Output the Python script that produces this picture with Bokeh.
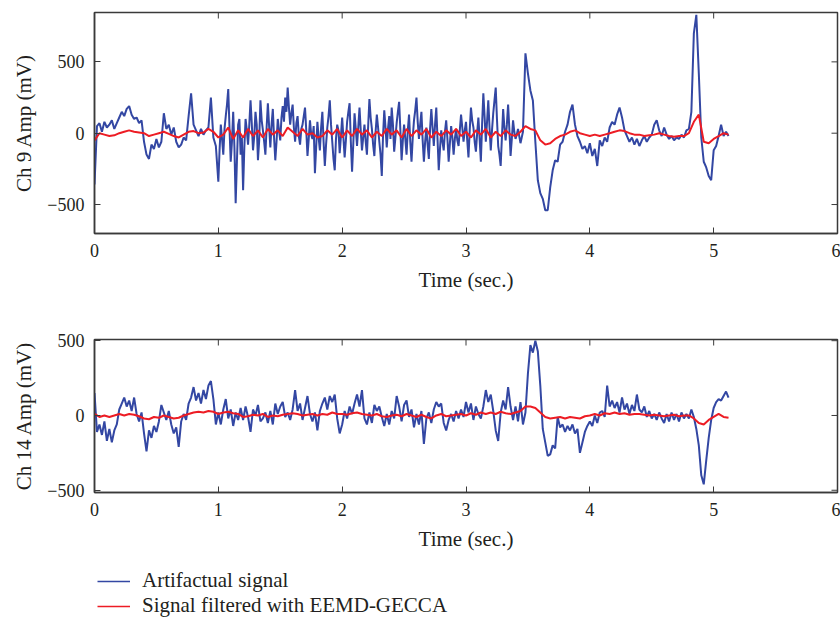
import numpy as np
from bokeh.plotting import figure
from bokeh.models import Range1d, FixedTicker, Legend, LegendItem
from bokeh.layouts import column
from bokeh.embed import file_html
from bokeh.resources import INLINE

# ---------------- data ----------------
x_ticks = [0, 1, 2, 3, 4, 5, 6]
y_ticks = [-500, 0, 500]

# Ch 9 artifactual signal, in three pieces sampled at different steps
ch9_raw_a_start, ch9_raw_a_step = 0.00, 0.02
ch9_raw_a = [
    -360, 50, 70, 10, 80, 40, 60, 90, 30, 70,
    110, 150, 120, 170, 190, 130, 100, 110, 70, 90,
    -60, -150, -180, -80, -110, -40, -100, -60, 140, 30,
    60, -10, 40, -60, -100, -80, -30, -50, 120, 280,
    60, 20, -20, 30, -10, 20, 40, 250, -30, -90,
]
ch9_raw_b_start, ch9_raw_b_step = 1.00, 0.01
ch9_raw_b = [
    -340, -120, 60, -40, -150, 30, 120, 200, 310, 40, -200, -60, 150, -100, -490, -200, 60, 100, -150, -30,
    -400, -100, 100, 20, -80, 60, 230, 70, -120, -20, 150, 60, -190, -50, 230, 90, 20, -60, -150, 40,
    210, 50, -100, 60, 170, -30, -190, -60, 100, 20, -50, 110, 190, 80, 250, 150, 320, 180, 60, 140,
    200, 40, -60, 70, 120, -20, -80, 30, 60, 120, 180, 20, -160, -40, 90, -10, -40, 50, -280, -100,
    80, -30, -120, 40, 150, -60, -230, -80, 40, 120, 230, 60, -60, -180, -260, -40, 60, 20, -140, -20,
    110, -30, -170, -50, 80, 150, 210, -60, -270, -70, 140, 30, -90, 40, 180, 20, -120, -30, 60, -60,
    -150, 50, 240, 110, 30, -80, -160, 10, 130, 40, -60, -150, -300, -20, 160, 40, -100, 30, 120, -40,
    180, 60, -130, -30, 70, 150, 220, 20, -190, -50, 60, -40, -150, 20, 130, -60, -200, -30, 90, 160,
    250, 80, -40, 60, 150, -50, -200, -60, 40, -80, -180, 30, 170, 40, -90, 60, 180, -40, -260, -110,
    20, -60, -120, 10, 90, -40, -200, -70, 50, -30, -150, -40, 30, -50, -90, 20, 130, 40, -60, 20,
    80, -50, -170, 20, 180, 90, 40, -60, -130, 0, 110, -40, -200, 60, 280, 120, -60, 80, 230, 40,
    -120, 20, 140, 230, 320, 100, -90, -150, -230, -30, 170, 40, -50, 60, 200, 30, -160, -40, 90, 10,
    -40, -10, 30, -20, -70, -30,
]
ch9_raw_c_start, ch9_raw_c_step = 3.46, 0.02
ch9_raw_c = [
    10, 560, 420, 300, 230, -60, -330,
    -420, -460, -540, -540, -380, -260, -190, -200, -80, -60,
    10, 60, 150, 200, 60, -20, -60, -110, -90, -140,
    -70, -160, -110, -230, -50, -90, -30, -60, 40, 80,
    60, 130, 180, 110, 20, -20, -60, -30, -80, -40,
    -90, -50, -20, -60, -30, -10, 60, 90, 20, -20,
    40, -10, -40, -20, -50, -30, -40, -10, -30, 20,
    30, 150, 700, 830, 420, -30, -200, -240, -300, -330,
    -120, -90, -20, 60, -20, 10, -20,
]

# Ch 9 filtered signal (step 0.04 s)
ch9_filt_step = 0.04
ch9_filt = [
    -50, 0, -10, -20, -15, 0, 10, 20, 10, 5,
    0, -20, -10, 0, 10, -5, -20, -30, -10, 10,
    15, 0, 5, 30, 10, -30, -10, 40, -40, 20,
    -30, 30, -20, 20, -30, 30, -10, 20, -20, 40,
    10, -20, 30, -10, 0, -30, -20, 20, -10, 30,
    -30, 20, -20, 30, -10, 20, -30, 10, -20, 30,
    -10, 20, -30, 30, -20, 20, -10, 30, -30, 10,
    -20, 20, -10, 30, -20, 10, -30, 20, -10, 30,
    -30, 10, -20, 20, -10, -20, 10, 50, 30, 20,
    -50, -80, -70, -40, -20, -10, 10, 20, 0, -10,
    -20, -10, -20, -10, 0, 10, 20, 15, 0, -10,
    -10, -20, -15, -10, 0, -10, -20, -25, -20, -20,
    0, 80, 130, -60, -70, -40, -20, 0, -10,
]

# Ch 14 artifactual signal (step 0.02 s)
ch14_raw_step = 0.02
ch14_raw = [
    150, -110, -60, -130, -40, -170, -90, -180, -100, -60,
    40, 80, 120, 60, 100, 30, 120, 10, -40, 20,
    -120, -240, -100, -150, -70, -110, -40, 70, 20, -30,
    30, -60, -120, -80, -210, -40, 10, -30, 80, 120,
    190, 100, 150, 80, 170, 110, 200, 230, 110, -60,
    20, -60, 40, 110, -20, 40, -70, 20, -30, 50,
    -30, 60, -10, -110, 40, 0, 70, -40, -20, 20,
    -50, 30, -60, 80, 10, 60, 90, -10, 20, -30,
    40, 170, 30, 80, -30, 50, 130, 10, -40, 20,
    -100, 30, 80, 120, 40, 130, 90, 140, -20, -120,
    -60, 30, -20, 60, 10, 80, 140, 60, 170, -20,
    -60, 20, -50, 70, 30, 60, -10, -70, 10, -60,
    30, -20, 130, 60, -40, 70, 100, -10, 40, -80,
    10, -60, 30, -190, -20, 20, -50, 40, 90, 60,
    80, -50, -100, -30, 10, -40, 30, -20, 40, -10,
    90, 20, 80, -30, 60, 10, -20, 60, 170, 90,
    140, 30, -100, -170, 20, 100, 40, 190, 60, -30,
    60, -40, 90, -60, 20, 280, 470, 420, 500, 430,
    200, -90, -180, -270, -260, -200, -220, -10, -80, -60,
    -110, -70, -100, -60, -120, -90, -250, -180, -110, -70,
    -40, -70, 0, -50, 20, 30, -10, 200, 60, 100,
    50, 90, 20, 120, 40, 80, 10, 70, 30, 140,
    40, 20, 60, -10, 30, -20, 10, -30, 20, -20,
    -50, 10, -40, 20, -30, 10, -40, 20, -20, 10,
    -20, 40, -10, -90, -200, -400, -460, -300, -150, -30,
    50, 90, 110, 100, 130, 160, 120,
]

# Ch 14 filtered signal (step 0.04 s)
ch14_filt_step = 0.04
ch14_filt = [
    10, -10, 0, -10, 0, 10, 0, 10, 5, -5,
    -20, -25, -10, -15, 0, -10, -20, -15, 0, 10,
    20, 25, 20, 30, 25, 10, 20, 25, 15, 10,
    -10, -5, 5, 0, 10, -10, 0, -5, 5, 10,
    15, 10, 0, 5, 10, 0, 10, 5, 20, 10,
    10, 5, 15, 20, 10, 5, 0, 10, -5, -10,
    0, 5, -5, 10, 0, -10, 5, -10, -20, 0,
    10, -5, 0, 5, 10, 0, 15, 5, 20, 10,
    20, 10, 25, 15, 10, 20, 30, 60, 60, 50,
    20, -10, -20, -15, -10, -20, -10, -15, -20, -5,
    0, 10, 0, 15, 10, 20, 10, 15, 5, 10,
    10, 5, 0, 5, 0, -5, 0, 5, -5, 0,
    0, -20, -50, -60, -30, -10, 10, -10, -15,
]

legend_labels = ["Artifactual signal", "Signal filtered with EEMD-GECCA"]


def times(start, step, vals):
    return start + np.arange(len(vals)) * step


t9_raw = np.concatenate([times(ch9_raw_a_start, ch9_raw_a_step, ch9_raw_a),
                         times(ch9_raw_b_start, ch9_raw_b_step, ch9_raw_b),
                         times(ch9_raw_c_start, ch9_raw_c_step, ch9_raw_c)])
v9_raw = ch9_raw_a + ch9_raw_b + ch9_raw_c
t9_filt = times(0.0, ch9_filt_step, ch9_filt)
t14_raw = times(0.0, ch14_raw_step, ch14_raw)
t14_filt = times(0.0, ch14_filt_step, ch14_filt)

# ---------------- styling ----------------
FONT = "Liberation Serif"
TXT = "#231f20"
BLUE = "#3347a3"
RED = "#ed1c24"
AX = "#3a3a3a"
TICK_LEN = 6


def style_axis(ax):
    ax.axis_line_color = AX
    ax.axis_line_width = 1.5
    ax.major_tick_line_color = AX
    ax.major_tick_in = TICK_LEN
    ax.major_tick_out = 0
    ax.minor_tick_line_color = None
    ax.major_label_text_font = FONT
    ax.major_label_text_color = TXT
    ax.major_label_text_font_size = "18px"
    ax.major_label_standoff = 10
    ax.axis_label_text_font = FONT
    ax.axis_label_text_font_size = "21px"
    ax.axis_label_text_font_style = "normal"
    ax.axis_label_text_color = TXT
    ax.axis_label_standoff = 8


def make_panel(ylabel, t_raw, raw, t_filt, filt, yr, height, top, bottom):
    p = figure(width=840, height=height,
               x_range=Range1d(0, 6), y_range=Range1d(*yr),
               output_backend="svg", toolbar_location=None,
               min_border_left=94, min_border_right=3,
               min_border_top=top, min_border_bottom=bottom)
    p.grid.visible = False
    p.outline_line_color = AX
    p.outline_line_width = 1.5
    p.background_fill_color = "white"
    p.border_fill_color = "white"

    p.line(t_raw, raw, line_color=BLUE, line_width=2)
    p.line(t_filt, filt, line_color=RED, line_width=2)

    p.xaxis.ticker = FixedTicker(ticks=x_ticks)
    p.yaxis.ticker = FixedTicker(ticks=y_ticks)
    p.yaxis.major_label_overrides = {-500: "\u2212500"}
    p.xaxis.axis_label = "Time (sec.)"
    p.yaxis.axis_label = ylabel
    for ax in p.xaxis + p.yaxis:
        style_axis(ax)

    # mirrored inward ticks on the top and right edges of the box
    inner_x = x_ticks[1:-1]
    p.ray(x=inner_x, y=[yr[1]] * len(inner_x), length=TICK_LEN,
          length_units="screen", angle=-np.pi / 2, line_color=AX, line_width=1)
    p.ray(x=[x_ticks[-1]] * len(y_ticks), y=y_ticks, length=TICK_LEN,
          length_units="screen", angle=np.pi, line_color=AX, line_width=1)
    return p


p1 = make_panel("Ch 9 Amp (mV)", t9_raw, v9_raw, t9_filt, ch9_filt,
                (-703, 846), 300, 12, 67)
p2 = make_panel("Ch 14 Amp (mV)", t14_raw, ch14_raw, t14_filt, ch14_filt,
                (-515, 508), 260, 39, 68)

# ---------------- legend strip ----------------
# same series drawn again, but the visible x-range lies beyond the data,
# so only the legend swatches show in this strip
p3 = figure(width=840, height=60, x_range=Range1d(10, 11), y_range=Range1d(0, 1),
            output_backend="svg", toolbar_location=None,
            x_axis_location=None, y_axis_location=None,
            min_border_left=94, min_border_right=3,
            min_border_top=0, min_border_bottom=0)
p3.grid.visible = False
p3.outline_line_color = None
r1 = p3.line(t14_raw, ch14_raw, line_color=BLUE, line_width=1.5)
r2 = p3.line(t14_filt, ch14_filt, line_color=RED, line_width=1.5)
legend = Legend(items=[LegendItem(label=legend_labels[0], renderers=[r1]),
                       LegendItem(label=legend_labels[1], renderers=[r2])],
                location=(3, 2), padding=0, margin=0, spacing=0,
                glyph_width=33, glyph_height=22, label_height=22,
                label_standoff=12, label_text_font=FONT,
                label_text_font_size="21px", label_text_color=TXT,
                border_line_color=None, background_fill_alpha=0)
p3.add_layout(legend, "center")

layout = column(p1, p2, p3, spacing=0)
open("out.html", "w").write(file_html(layout, INLINE))
